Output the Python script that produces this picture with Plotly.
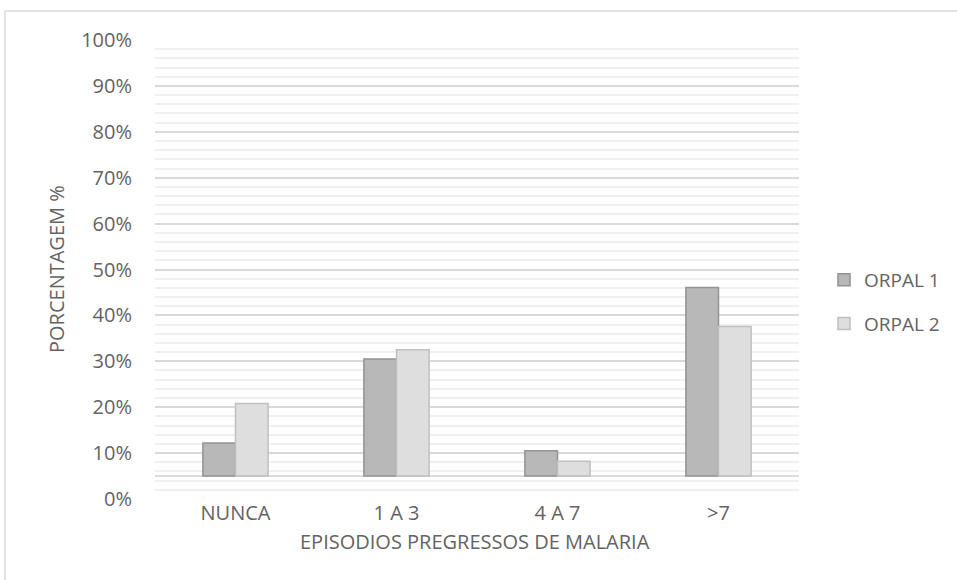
import plotly.graph_objects as go

# Episodes of malaria by group (share of respondents)
categories = ["NUNCA", "1 A 3", "4 A 7", ">7"]
orpal1 = [0.122, 0.305, 0.105, 0.461]
orpal2 = [0.208, 0.325, 0.082, 0.376]
series_names = ["ORPAL 1", "ORPAL 2"]
y_ticks = [i / 10 for i in range(11)]
baseline = 0.05  # horizontal axis crosses the value axis here

TEXT = "#636363"
FONT = "Open Sans"
FS = 20

fig = go.Figure()
for name, vals, fill, edge, grp in [
    (series_names[0], orpal1, "#b8b8b8", "#939393", "g1"),
    (series_names[1], orpal2, "#dedede", "#bfbfbf", "g2"),
]:
    fig.add_trace(go.Bar(
        x=categories,
        y=[v - baseline for v in vals],
        base=baseline,
        name=name,
        legendgroup=grp,
        marker=dict(color=fill, line=dict(color=edge, width=1.5)),
        hovertemplate="%{x}: %{customdata:.1%}<extra>" + name + "</extra>",
        customdata=vals,
    ))

W, H = 957, 580
L, R, T, B = 155, 158, 40, 81
pw, ph = W - L - R, H - T - B


def px_x(x):
    return (x - L) / pw


def px_y(y):
    return (T + ph - y) / ph


fig.update_layout(
    width=W, height=H,
    margin=dict(l=L, r=R, t=T, b=B),
    paper_bgcolor="white", plot_bgcolor="white",
    barmode="group", bargap=0.595, bargroupgap=0,
    font=dict(family=FONT, size=FS, color=TEXT),
    showlegend=True,
    legend=dict(
        x=px_x(824), xanchor="left",
        y=px_y(302), yanchor="middle",
        traceorder="grouped", tracegroupgap=16,
        font=dict(family=FONT, size=FS - 1, color=TEXT),
        itemwidth=30,
    ),
    xaxis=dict(
        showgrid=False, showline=False, ticks="",
        tickfont=dict(size=FS, color=TEXT),
    ),
    yaxis=dict(
        range=[0, 1], tickvals=y_ticks, tickformat=".0%",
        showgrid=True, gridcolor="#d9d9d9", gridwidth=1.5,
        minor=dict(dtick=0.02, showgrid=True, gridcolor="#f0f0f0", gridwidth=1.5),
        zeroline=False, showline=False, ticks="",
        ticklabelstandoff=22,
        tickfont=dict(size=FS, color=TEXT),
    ),
    annotations=[
        dict(text="EPISODIOS PREGRESSOS DE MALARIA", xref="paper", yref="paper",
             x=px_x(475), y=px_y(541), xanchor="center", yanchor="middle",
             showarrow=False, font=dict(size=FS, color=TEXT)),
        dict(text="PORCENTAGEM %", xref="paper", yref="paper",
             x=px_x(56), y=px_y(269), xanchor="center", yanchor="middle",
             textangle=-90, showarrow=False, font=dict(size=FS, color=TEXT)),
    ],
    shapes=[
        # category axis line at the crossing value
        dict(type="line", xref="paper", yref="y", x0=0, x1=1,
             y0=baseline, y1=baseline, line=dict(color="#d0d0d0", width=1.5),
             layer="below"),
        # chart area border
        dict(type="rect", xref="paper", yref="paper",
             x0=px_x(5), x1=px_x(W + 10),
             y0=px_y(H + 10), y1=px_y(11),
             line=dict(color="#d9d9d9", width=1.5), fillcolor="rgba(0,0,0,0)"),
    ],
)

fig.write_html("out.html")
